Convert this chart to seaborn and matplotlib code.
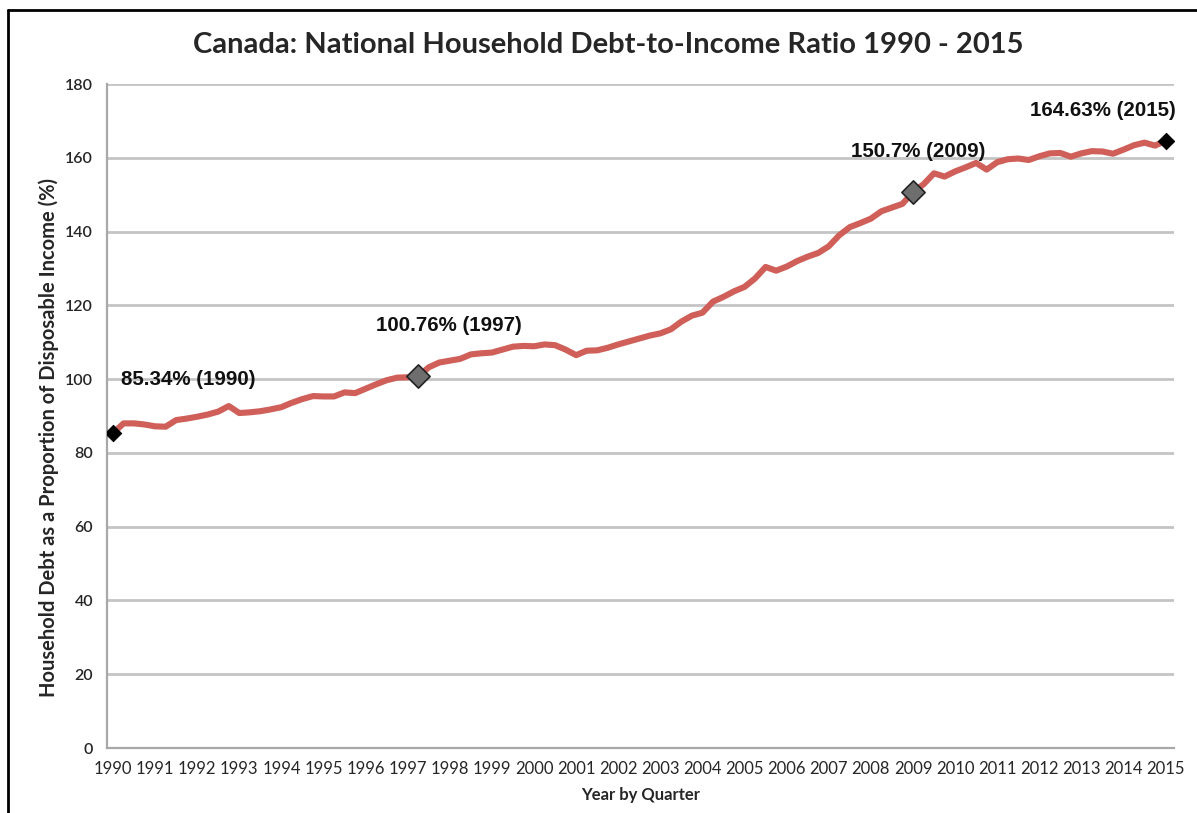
import matplotlib
matplotlib.use("Agg")
import matplotlib.pyplot as plt
import numpy as np
import pandas as pd
import seaborn as sns

# quarterly debt-to-income ratio, 1990Q1 .. 2015Q1
ratio = [
    85.34, 88.0, 88.0, 87.7,      # 1990
    87.2, 87.1, 88.9, 89.3,       # 1991
    89.8, 90.4, 91.2, 92.7,       # 1992
    90.8, 91.0, 91.3, 91.8,       # 1993
    92.4, 93.6, 94.6, 95.4,       # 1994
    95.3, 95.3, 96.4, 96.2,       # 1995
    97.4, 98.6, 99.7, 100.4,      # 1996
    100.5, 100.76, 103.2, 104.5,  # 1997
    105.0, 105.5, 106.7, 107.0,   # 1998
    107.2, 108.0, 108.8, 109.0,   # 1999
    108.9, 109.4, 109.2, 108.0,   # 2000
    106.5, 107.7, 107.8, 108.5,   # 2001
    109.4, 110.2, 111.0, 111.8,   # 2002
    112.4, 113.5, 115.6, 117.2,   # 2003
    118.0, 121.0, 122.3, 123.8,   # 2004
    125.0, 127.3, 130.4, 129.4,   # 2005
    130.5, 132.0, 133.2, 134.2,   # 2006
    136.0, 139.0, 141.2, 142.3,   # 2007
    143.5, 145.5, 146.5, 147.5,   # 2008
    150.7, 152.8, 155.8, 154.9,   # 2009
    156.3, 157.4, 158.6, 156.8,   # 2010
    158.8, 159.6, 159.8, 159.4,   # 2011
    160.4, 161.2, 161.3, 160.3,   # 2012
    161.2, 161.8, 161.7, 161.1,   # 2013
    162.2, 163.4, 164.1, 163.3,   # 2014
    164.63,                       # 2015
]
quarter_pos = [1990 + i * 0.25 for i in range(len(ratio))]

# highlighted points
hl_years = [1990.0, 1997.25, 2009.0, 2015.0]
hl_values = [85.34, 100.76, 150.7, 164.63]
hl_labels = ["85.34% (1990)", "100.76% (1997)", "150.7% (2009)", "164.63% (2015)"]
hl_text_x = [1990.2, 1996.25, 2007.53, 2011.78]
hl_text_y = [100.0, 114.4, 161.8, 172.9]

year_ticks = list(range(1990, 2016))
y_ticks = list(range(0, 181, 20))

df = pd.DataFrame({"year": quarter_pos, "ratio": ratio})

sns.set_style("white")
plt.rcParams["font.family"] = ["Lato", "DejaVu Sans"]

fig = plt.figure(figsize=(11.97, 8.13), dpi=100)
ax = fig.add_axes([107 / 1197, 65 / 813, 1067 / 1197, 664 / 813])

for y in y_ticks[1:]:
    ax.axhline(y, color="#c4c4c4", lw=2.0, zorder=0)

sns.lineplot(data=df, x="year", y="ratio", color="#cf5f58", lw=4.4,
             ax=ax, zorder=2, solid_capstyle="round")

# black end markers, grey shaded middle markers
sns.scatterplot(x=[hl_years[0], hl_years[3]], y=[hl_values[0], hl_values[3]],
                marker="D", s=70, color="black", edgecolor="black", ax=ax, zorder=3)
sns.scatterplot(x=[hl_years[1], hl_years[2]], y=[hl_values[1], hl_values[2]],
                marker="D", s=140, color="#6e6e6e", edgecolor="#222222",
                linewidth=1.2, ax=ax, zorder=3)

for tx, ty, lab in zip(hl_text_x, hl_text_y, hl_labels):
    ax.text(tx, ty, lab, fontsize=14.8, fontweight="bold", ha="left", va="center",
            family=["Liberation Sans", "DejaVu Sans"], color="#111111")

ax.set_xlim(1989.857, 2015.2)
ax.set_ylim(0, 180)
ax.set_xticks(year_ticks)
ax.set_xticklabels([str(y) for y in year_ticks], fontsize=12)
ax.set_yticks(y_ticks)
ax.set_yticklabels([str(y) for y in y_ticks], fontsize=11.5, fontweight="semibold")
ax.tick_params(axis="x", direction="inout", length=7, width=1.2, color="#a8a8a8", pad=6)
ax.tick_params(axis="y", length=0, pad=10)

for side in ["top", "right"]:
    ax.spines[side].set_visible(False)
for side in ["left", "bottom"]:
    ax.spines[side].set_color("#a8a8a8")
    ax.spines[side].set_linewidth(1.6)

ax.set_xlabel("Year by Quarter", fontsize=12, fontweight="bold")
ax.xaxis.set_label_coords(0.5, -0.058)
ax.set_ylabel("Household Debt as a Proportion of Disposable Income (%)",
              fontsize=14.5, fontweight="bold")
ax.yaxis.set_label_coords(-0.045, 0.467)

fig.text(608 / 1197, 1 - 45 / 813, "Canada: National Household Debt-to-Income Ratio 1990 - 2015",
         fontsize=21, fontweight="bold", ha="center", va="center")

# outer frame (top and left edges visible in the original)
fig.add_artist(plt.Line2D([8 / 1197, 8 / 1197], [0, 1 - 10 / 813], color="black", lw=2,
                          transform=fig.transFigure))
fig.add_artist(plt.Line2D([8 / 1197, 1], [1 - 10 / 813, 1 - 10 / 813], color="black", lw=2,
                          transform=fig.transFigure))

fig.savefig("out.png", dpi=100)
